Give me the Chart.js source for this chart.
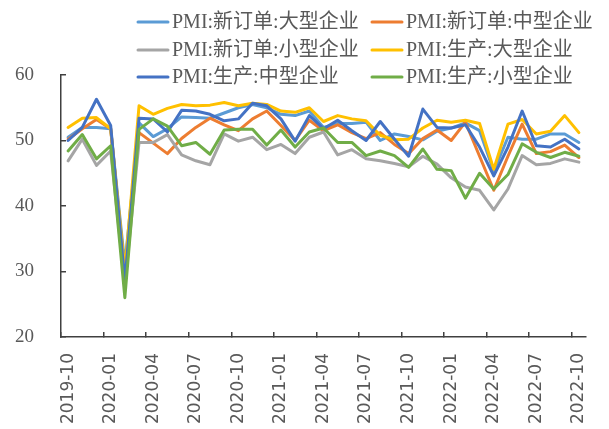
<!DOCTYPE html>
<html>
<head>
<meta charset="utf-8">
<script src="https://cdn.jsdelivr.net/npm/chart.js@4/dist/chart.umd.min.js"></script>
<style>
    html, body { margin: 0; padding: 0; background: #ffffff; }
    #wrap { width: 609px; height: 429px; }
</style>
</head>
<body>
<div id="wrap"><canvas id="pmiChart" width="609" height="429"></canvas></div>
<script>
/************************
 *      Resource
 ************************/
const MONTHS = [
    "2019-10", "2019-11", "2019-12",
    "2020-01", "2020-02", "2020-03", "2020-04", "2020-05", "2020-06",
    "2020-07", "2020-08", "2020-09", "2020-10", "2020-11", "2020-12",
    "2021-01", "2021-02", "2021-03", "2021-04", "2021-05", "2021-06",
    "2021-07", "2021-08", "2021-09", "2021-10", "2021-11", "2021-12",
    "2022-01", "2022-02", "2022-03", "2022-04", "2022-05", "2022-06",
    "2022-07", "2022-08", "2022-09", "2022-10"
]
const SERIES_NAMES = [
    "PMI:新订单:大型企业", "PMI:新订单:中型企业",
    "PMI:新订单:小型企业", "PMI:生产:大型企业",
    "PMI:生产:中型企业", "PMI:生产:小型企业"
]
const NEW_ORDER_LARGE = [
    50.5, 52.0, 52.0, 51.8, 31.0, 52.7, 50.6, 51.8, 53.6, 53.5, 53.4, 54.2, 55.0,
    55.5, 55.0, 54.0, 53.8, 54.5, 52.0, 52.6, 52.6, 52.8, 50.0, 51.0, 50.6, 50.1,
    51.4, 51.9, 52.7, 51.5, 45.3, 50.5, 50.2, 50.2, 51.0, 51.0, 49.7
]
const NEW_ORDER_MEDIUM = [
    50.2, 51.8, 53.2, 51.8, 29.5, 51.2, 49.6, 48.0, 50.3, 52.0, 53.4, 52.4, 51.5,
    53.3, 54.5, 52.3, 50.0, 53.1, 51.5, 52.4, 51.2, 50.3, 51.2, 49.4, 48.0, 50.3,
    51.6, 50.0, 52.8, 47.6, 42.4, 47.6, 52.5, 48.0, 48.3, 49.3, 47.4
]
const NEW_ORDER_SMALL = [
    46.9, 50.2, 46.2, 48.4, 28.0, 49.7, 49.7, 50.9, 47.8, 46.9, 46.3, 51.0, 49.9,
    50.5, 48.6, 49.4, 48.0, 50.5, 51.3, 47.8, 48.6, 47.2, 46.9, 46.5, 46.0, 47.6,
    46.4, 44.3, 42.9, 42.4, 39.4, 42.6, 47.7, 46.3, 46.5, 47.2, 46.7
]
const OUTPUT_LARGE = [
    52.0, 53.4, 53.5, 51.8, 30.0, 55.3, 54.0, 54.9, 55.5, 55.3, 55.4, 55.8, 55.3,
    55.7, 55.5, 54.5, 54.3, 55.0, 52.9, 53.8, 53.3, 53.0, 50.8, 50.1, 50.2, 51.9,
    53.1, 52.8, 53.1, 52.6, 45.6, 52.5, 53.2, 51.0, 51.4, 53.8, 51.2
]
const OUTPUT_MEDIUM = [
    50.0, 52.0, 56.3, 52.3, 28.5, 53.4, 53.3, 51.3, 54.6, 54.5, 54.0, 53.0, 53.3,
    55.7, 55.3, 53.3, 49.9, 53.8, 51.8, 53.1, 51.5, 50.0, 52.9, 50.2, 47.6, 54.8,
    52.0, 51.9, 52.4, 49.0, 44.6, 49.0, 54.5, 49.2, 49.0, 50.2, 48.7
]
const OUTPUT_SMALL = [
    48.4, 50.9, 47.2, 49.2, 26.0, 51.7, 53.3, 52.2, 49.2, 49.7, 47.9, 51.6, 51.7,
    51.7, 49.3, 51.6, 49.0, 51.3, 51.9, 49.7, 49.7, 47.7, 48.4, 47.7, 45.9, 48.7,
    45.6, 45.4, 41.2, 45.0, 42.6, 44.8, 49.5, 48.2, 47.4, 48.2, 47.6
]
const Y_TICKS = [20, 30, 40, 50, 60]

const COLORS = ["#5B9BD5", "#ED7D31", "#A5A5A5", "#FFC000", "#4472C4", "#70AD47"]
const AXIS_COLOR = "#404040"
const TEXT_COLOR = "#595959"
const SERIF = "'Liberation Serif', 'Noto Sans CJK SC', serif"

/************************
 *      Method
 ************************/
// legend in two columns, like the original sheet
const twoColumnLegend = {
    id: "twoColumnLegend",
    afterDraw(chart) {
        const ctx = chart.ctx
        const colX = [138, 372]
        const rowY = [22, 50, 77]
        ctx.save()
        ctx.font = "20px " + SERIF
        ctx.textBaseline = "middle"
        ctx.fillStyle = TEXT_COLOR
        chart.data.datasets.forEach((ds, i) => {
            const x = colX[i % 2]
            const y = rowY[Math.floor(i / 2)]
            ctx.strokeStyle = ds.borderColor
            ctx.lineWidth = 3
            ctx.lineCap = "round"
            ctx.beginPath()
            ctx.moveTo(x, y)
            ctx.lineTo(x + 30, y)
            ctx.stroke()
            ctx.fillText(ds.label, x + 34, y + 1)
        })
        ctx.restore()
    }
}

const makeDataset = (label, data, i) => ({
    label: label,
    data: data,
    borderColor: COLORS[i],
    backgroundColor: COLORS[i],
    borderWidth: 3,
    pointRadius: 0,
    tension: 0,
    borderJoinStyle: "round",
    borderCapStyle: "round",
    order: 6 - i
})

const createChart = () => {
    const allSeries = [NEW_ORDER_LARGE, NEW_ORDER_MEDIUM, NEW_ORDER_SMALL,
        OUTPUT_LARGE, OUTPUT_MEDIUM, OUTPUT_SMALL]

    new Chart("pmiChart", {
        type: "line",
        data: {
            labels: MONTHS,
            datasets: allSeries.map((s, i) => makeDataset(SERIES_NAMES[i], s, i))
        },
        options: {
            responsive: false,
            animation: false,
            devicePixelRatio: 1,
            layout: { padding: { top: 75, left: 15, right: 23, bottom: 0 } },
            plugins: {
                legend: { display: false },
                tooltip: { enabled: false }
            },
            scales: {
                x: {
                    offset: true,
                    grid: {
                        offset: true,
                        drawOnChartArea: false,
                        tickLength: -5,
                        lineWidth: 1.5,
                        color: (c) => c.index % 3 === 0 ? AXIS_COLOR : "rgba(0,0,0,0)"
                    },
                    border: { color: AXIS_COLOR, width: 1.5 },
                    ticks: {
                        autoSkip: false,
                        maxRotation: 90,
                        minRotation: 90,
                        padding: 21,
                        color: TEXT_COLOR,
                        font: { family: "'DejaVu Sans', sans-serif", size: 17 },
                        callback: (v, i) => i % 3 === 0 ? MONTHS[i] : ""
                    },
                    afterFit: (s) => {
                        s.paddingLeft = 0
                        s.paddingRight = 0
                        s.height = 92
                    }
                },
                y: {
                    min: Y_TICKS[0],
                    max: Y_TICKS[Y_TICKS.length - 1],
                    afterBuildTicks: (axis) => { axis.ticks = Y_TICKS.map(v => ({ value: v })) },
                    grid: {
                        drawOnChartArea: false,
                        tickLength: -5,
                        lineWidth: 1.5,
                        color: AXIS_COLOR
                    },
                    border: { color: AXIS_COLOR, width: 1.5 },
                    ticks: {
                        padding: 32,
                        color: TEXT_COLOR,
                        font: { family: SERIF, size: 19 }
                    },
                    afterFit: (s) => {
                        s.width = 46
                        s.paddingTop = 0
                        s.paddingBottom = 0
                    }
                }
            }
        },
        plugins: [twoColumnLegend]
    })
}

createChart()
</script>
</body>
</html>
